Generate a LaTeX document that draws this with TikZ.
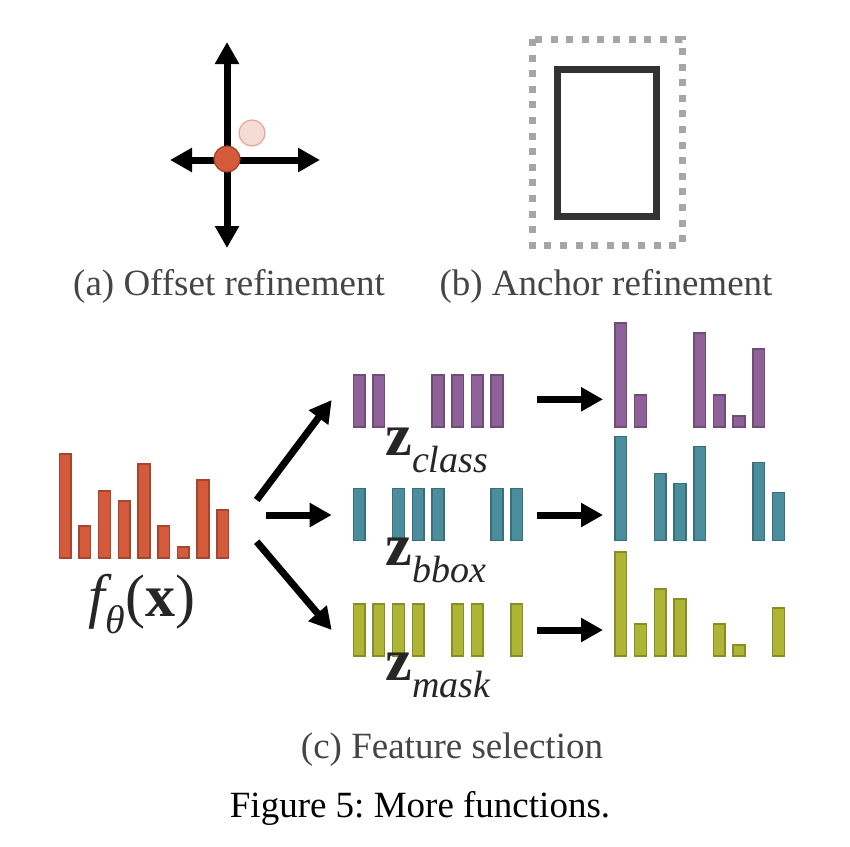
\documentclass[tikz,border=0pt]{standalone}
\usepackage{fontspec}
\setmainfont{Liberation Serif}
\usetikzlibrary{arrows.meta}
\frenchspacing

\definecolor{dotred}{HTML}{D35A3B}
\definecolor{dotredline}{HTML}{A3402A}
\definecolor{ghostfill}{HTML}{F5DCD5}
\definecolor{ghostline}{HTML}{EBA494}
\definecolor{clspurple}{HTML}{8F6199}
\definecolor{bboxteal}{HTML}{4A8D9D}
\definecolor{maskolive}{HTML}{AEB535}
\definecolor{capgray}{HTML}{454545}

\newcommand{\zsub}[2]{{\fontsize{30}{32}\selectfont\bfseries #1}\raisebox{-8.5pt}{\fontsize{19}{20}\selectfont\itshape #2}}

\begin{document}
\begin{tikzpicture}[x=0.5pt, y=-0.5pt,
    fat/.style={line width=3.5pt, -{Triangle[length=11pt,width=11.5pt]}},
    both/.style={line width=3.5pt, {Triangle[length=11pt,width=11.5pt]}-{Triangle[length=11pt,width=11.5pt]}},
    lbl/.style={anchor=base, inner sep=0pt, text=capgray, font=\fontsize{18.5}{22}\selectfont},
    mathlbl/.style={anchor=base west, inner sep=0pt, text=black!85},
    featbar/.style={draw=#1!78!black, line width=0.75pt, fill=#1}]
\useasboundingbox (0,0) rectangle (850,846);

% (a) offset refinement
\coordinate (up) at (227,42);
\coordinate (down) at (227,248);
\coordinate (left) at (170,160);
\coordinate (right) at (320,160);
\draw[both] (up) -- (down);
\draw[both] (left) -- (right);
\node[circle, minimum size=13pt, inner sep=0pt, fill=ghostfill, draw=ghostline, line width=0.6pt] (ghost) at (252,133) {};
\node[circle, minimum size=13pt, inner sep=0pt, fill=dotred, draw=dotredline, line width=0.6pt] (dot) at (227,159) {};
\node[lbl] (lbla) at (229,295) {(a) Offset refinement};

% (b) anchor refinement
\draw[gray!70, line width=3.5pt, dash pattern=on 3.5pt off 4.3pt] (532,39) rectangle (682,245);
\draw[black!80, line width=3.5pt] (557.5,69.5) rectangle (656.5,216.5);
\node[lbl] (lblb) at (606,295) {(b) Anchor refinement};

% (c) feature selection
\def\heights{{104,32,67,57,94,32,11,78,48}}
\foreach \s in {0,...,8} {
  \pgfmathsetmacro\h{\heights[\s]}
  \draw[featbar=dotred] (59.3+19.7*\s,558) rectangle ++(11.7,-\h);
}
\node[mathlbl, anchor=base] (fx) at (142,616)
  {\fontsize{30}{32}\selectfont\itshape f\raisebox{-8.5pt}{\fontsize{20}{21}\selectfont θ}\upshape(\textbf{x})};

\foreach \c/\base/\slots in {clspurple/427/{0,1,4,5,6,7}, bboxteal/540.7/{0,2,3,4,7,8}, maskolive/656/{0,1,2,3,5,6,8}} {
  \foreach \s in \slots {
    \pgfmathsetmacro\h{\heights[\s]}
    \draw[featbar=\c] (353.3+19.7*\s,\base) rectangle ++(11.7,-52);
    \draw[featbar=\c] (615+19.7*\s,\base) rectangle ++(11.7,-\h);
  }
}

\coordinate (fan1) at (256.7,500);
\coordinate (fan2) at (266,515);
\coordinate (fan3) at (256.7,541.7);
\coordinate (cls) at (331.7,400);
\coordinate (bbox) at (331.7,515);
\coordinate (mask) at (331.7,630);
\draw[fat] (fan1) -- (cls);
\draw[fat] (fan2) -- (bbox);
\draw[fat] (fan3) -- (mask);

\foreach \y in {399.3,515,630} {
  \coordinate (sel-a) at (537,\y);
  \coordinate (sel-b) at (603,\y);
  \draw[fat] (sel-a) -- (sel-b);
}

\node[mathlbl] (zcls) at (385,455) {\zsub{z}{class}};
\node[mathlbl] (zbbox) at (385,565) {\zsub{z}{bbox}};
\node[mathlbl] (zmask) at (385,680) {\zsub{z}{mask}};

\node[lbl] (lblc) at (452,758) {(c) Feature selection};
\node[lbl, text=black] (cap) at (420,817) {Figure 5: More functions.};
\end{tikzpicture}
\end{document}
